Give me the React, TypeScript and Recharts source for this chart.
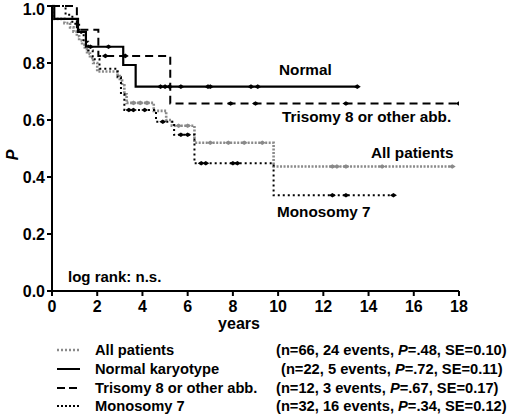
// App.tsx
// Kaplan-Meier curves by karyotype, drawn as step lines with censor marks.

import { ComposedChart, Line, XAxis, YAxis } from "recharts";

// event times (years) and survival after each step
const allTimes = [0, 0.07, 0.55, 0.8, 0.95, 1.1, 1.2, 1.33, 1.45, 1.55, 1.68, 1.82, 2.0, 2.9, 3.0, 3.1, 3.2, 3.3, 4.5, 5.05, 5.3, 6.3, 9.8];
const allSurv = [1.0, 0.955, 0.94, 0.925, 0.91, 0.894, 0.879, 0.864, 0.848, 0.833, 0.818, 0.8, 0.77, 0.754, 0.738, 0.722, 0.69, 0.66, 0.632, 0.6, 0.58, 0.52, 0.437];
const allCensor = [3.6, 3.9, 4.2, 5.6, 6.0, 7.0, 7.8, 8.5, 9.3, 12.4, 12.6, 13.0, 14.6, 17.7];

const normalTimes = [0, 0.1, 1.15, 1.5, 3.15, 3.7];
const normalSurv = [1.0, 0.955, 0.909, 0.857, 0.793, 0.717];
const normalCensor = [1.7, 2.5, 4.8, 5.0, 5.2, 5.7, 6.9, 7.0, 8.8, 9.1, 13.5];

const trisomyTimes = [0, 1.1, 2.05, 5.23];
const trisomySurv = [1.0, 0.917, 0.825, 0.658];
const trisomyCensor = [2.36, 3.24, 7.9, 9.0, 13.0, 18.0];

const monoTimes = [0, 0.6, 0.9, 1.2, 1.4, 1.6, 1.8, 2.1, 2.9, 3.05, 3.2, 4.6, 5.4, 6.3, 9.8];
const monoSurv = [1.0, 0.969, 0.938, 0.906, 0.875, 0.844, 0.813, 0.78, 0.75, 0.69, 0.635, 0.594, 0.548, 0.448, 0.336];
const monoCensor = [3.4, 3.6, 4.1, 4.9, 5.7, 6.0, 6.6, 6.8, 8.0, 8.2, 12.4, 13.0, 15.1];

const xTicks = [0, 2, 4, 6, 8, 10, 12, 14, 16, 18];
const yTicks = [0, 0.2, 0.4, 0.6, 0.8, 1.0];

const FONT = "'Liberation Sans', Arial, sans-serif";

function survAt(times: number[], surv: number[], t: number) {
  let p = surv[0];
  times.forEach((tt, i) => {
    if (tt <= t) p = surv[i];
  });
  return p;
}

function buildCurve(times: number[], surv: number[], censor: number[]) {
  const pts = times.map((t, i) => ({ t, p: surv[i], c: false }));
  censor.forEach((t) => pts.push({ t, p: survAt(times, surv, t), c: true }));
  return pts.sort((a, b) => a.t - b.t);
}

const allData = buildCurve(allTimes, allSurv, allCensor);
const normalData = buildCurve(normalTimes, normalSurv, normalCensor);
const trisomyData = buildCurve(trisomyTimes, trisomySurv, trisomyCensor);
const monoData = buildCurve(monoTimes, monoSurv, monoCensor);

const censorDot = (color: string) => (props: any) => {
  const { cx, cy, payload, index } = props;
  if (!payload || !payload.c) return <g key={index} />;
  return (
    <path
      key={index}
      d={`M${cx - 3.5},${cy} L${cx},${cy - 2.3} L${cx + 3.5},${cy} L${cx},${cy + 2.3} Z`}
      fill={color}
      stroke="none"
    />
  );
};

const tickStyle = { fontSize: 16, fontWeight: 700, fill: "#000", fontFamily: FONT };

// y tick labels; the top one sits a little below its tick so it stays on the page
const YTick = (props: any) => {
  const { x, y, payload } = props;
  const shift = payload.value === 1 ? 3 : 0;
  return (
    <text x={x} y={y + shift} dy="0.355em" textAnchor="end" {...tickStyle}>
      {Number(payload.value).toFixed(1)}
    </text>
  );
};

const legendRows = [
  { label: "All patients", n: "(n=66, 24 events, ", p: "=.48, SE=0.10)", sx: 276, color: "#8a8a8a", dash: "2 2", w: 2.5 },
  { label: "Normal karyotype", n: "(n=22, 5 events, ", p: "=.72, SE=0.11)", sx: 281, color: "#000", dash: undefined, w: 2 },
  { label: "Trisomy 8 or other abb.", n: "(n=12, 3 events, ", p: "=.67, SE=0.17)", sx: 276, color: "#000", dash: "8 4", w: 2 },
  { label: "Monosomy 7", n: "(n=32, 16 events, ", p: "=.34, SE=0.12)", sx: 276, color: "#000", dash: "2 2", w: 1.8 },
];
const legendY = [350, 369, 388, 406];

export default function App() {
  return (
    <div style={{ position: "fixed", left: 0, top: 0, width: 520, height: 415, background: "#fff" }}>
      <ComposedChart
        width={520}
        height={415}
        margin={{ top: 6, right: 61, left: 0, bottom: 94 }}
        style={{ position: "absolute", left: 0, top: 0 }}
      >
        <XAxis
          type="number"
          dataKey="t"
          domain={[0, 18]}
          ticks={xTicks}
          interval={0}
          height={30}
          tick={tickStyle}
          tickSize={5}
          tickMargin={5}
          axisLine={{ stroke: "#000", strokeWidth: 2 }}
          tickLine={{ stroke: "#000", strokeWidth: 2 }}
          allowDataOverflow
        />
        <YAxis
          type="number"
          dataKey="p"
          domain={[0, 1]}
          ticks={yTicks}
          interval={0}
          width={52}
          tick={<YTick />}
          tickSize={5}
          tickMargin={2}
          axisLine={{ stroke: "#000", strokeWidth: 2 }}
          tickLine={{ stroke: "#000", strokeWidth: 2 }}
        />
        <Line
          data={allData}
          dataKey="p"
          type="stepAfter"
          stroke="#8a8a8a"
          strokeWidth={2.6}
          strokeDasharray="2 1.5"
          dot={censorDot("#8a8a8a")}
          isAnimationActive={false}
        />
        <Line
          data={monoData}
          dataKey="p"
          type="stepAfter"
          stroke="#000"
          strokeWidth={2}
          strokeDasharray="2 3"
          dot={censorDot("#000")}
          isAnimationActive={false}
        />
        <Line
          data={trisomyData}
          dataKey="p"
          type="stepAfter"
          stroke="#000"
          strokeWidth={2}
          strokeDasharray="8 5"
          dot={censorDot("#000")}
          isAnimationActive={false}
        />
        <Line
          data={normalData}
          dataKey="p"
          type="stepAfter"
          stroke="#000"
          strokeWidth={2.2}
          dot={censorDot("#000")}
          isAnimationActive={false}
        />
      </ComposedChart>
      <svg
        width={520}
        height={415}
        style={{ position: "absolute", left: 0, top: 0, pointerEvents: "none" }}
        fontFamily={FONT}
        fontWeight={700}
      >
        <text x={12} y={155} fontSize={16} fontStyle="italic" textAnchor="middle" dominantBaseline="central" transform="rotate(-90 12 155)">
          P
        </text>
        <text x={239} y={323} fontSize={16} textAnchor="middle" dominantBaseline="central">
          years
        </text>
        <text x={279} y={75} fontSize={15.3}>Normal</text>
        <text x={282} y={122} fontSize={15.3}>Trisomy 8 or other abb.</text>
        <text x={371} y={158} fontSize={15.3}>All patients</text>
        <text x={277} y={216.5} fontSize={15.3}>Monosomy 7</text>
        <text x={68} y={282} fontSize={15}>log rank: n.s.</text>
        {legendRows.map((r, i) => (
          <g key={r.label}>
            <line x1={57} x2={80} y1={legendY[i]} y2={legendY[i]} stroke={r.color} strokeWidth={r.w} strokeDasharray={r.dash} />
            <text x={95} y={legendY[i] + 5.3} fontSize={14.7}>{r.label}</text>
            <text x={r.sx} y={legendY[i] + 5.3} fontSize={14.7}>
              {r.n}
              <tspan fontStyle="italic">P</tspan>
              {r.p}
            </text>
          </g>
        ))}
      </svg>
    </div>
  );
}
